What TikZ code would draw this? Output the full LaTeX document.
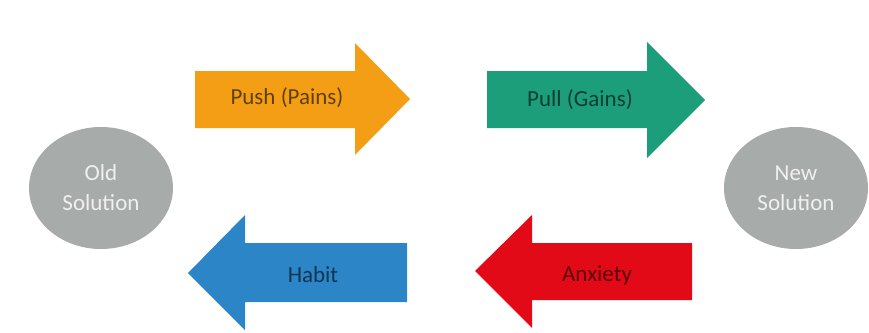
\documentclass[tikz,border=0pt]{standalone}
\usepackage{fontspec}
\setmainfont{Carlito}
\usetikzlibrary{shapes.geometric}
\definecolor{pushc}{HTML}{F49E16}
\definecolor{pullc}{HTML}{1C9E7B}
\definecolor{habitc}{HTML}{2C85C7}
\definecolor{anxc}{HTML}{E20A17}
\definecolor{solc}{HTML}{A7ABAA}

\begin{document}
\begin{tikzpicture}[x=1pt,y=-1pt,
  lbl/.style={font=\fontsize{23}{28}\selectfont,inner sep=0pt},
  sol/.style={ellipse,fill=solc,text=white!94!black,align=center,
    minimum width=144pt,minimum height=122pt,inner sep=0pt,
    font=\fontsize{23}{30}\selectfont}]
\useasboundingbox (0,0) rectangle (869,332);

% the two solutions
\node[sol] (old) at (101,188) {Old\\Solution};
\node[sol] (new) at (796,188) {New\\Solution};

% forward arrows
\fill[pushc] (195,71) -- (355,71) -- (355,43) -- (410,99) -- (355,155) -- (355,128) -- (195,128) -- cycle;
\fill[pullc] (487,71) -- (647,71) -- (647,42) -- (705,100) -- (647,158) -- (647,128) -- (487,128) -- cycle;
% backward arrows
\fill[habitc] (407,243) -- (245,243) -- (245,215) -- (188,273) -- (245,330) -- (245,302) -- (407,302) -- cycle;
\fill[anxc] (692,243) -- (532,243) -- (532,215) -- (475,271) -- (532,328) -- (532,300) -- (692,300) -- cycle;

\node[lbl,text=pushc!40!black] (push) at (287,98) {Push (Pains)};
\node[lbl,text=pullc!40!black] (pull) at (580,100) {Pull (Gains)};
\node[lbl,text=habitc!40!black] (habit) at (313,275) {Habit};
\node[lbl,text=anxc!40!black] (anxiety) at (597,275) {Anxiety};

\end{tikzpicture}
\end{document}
